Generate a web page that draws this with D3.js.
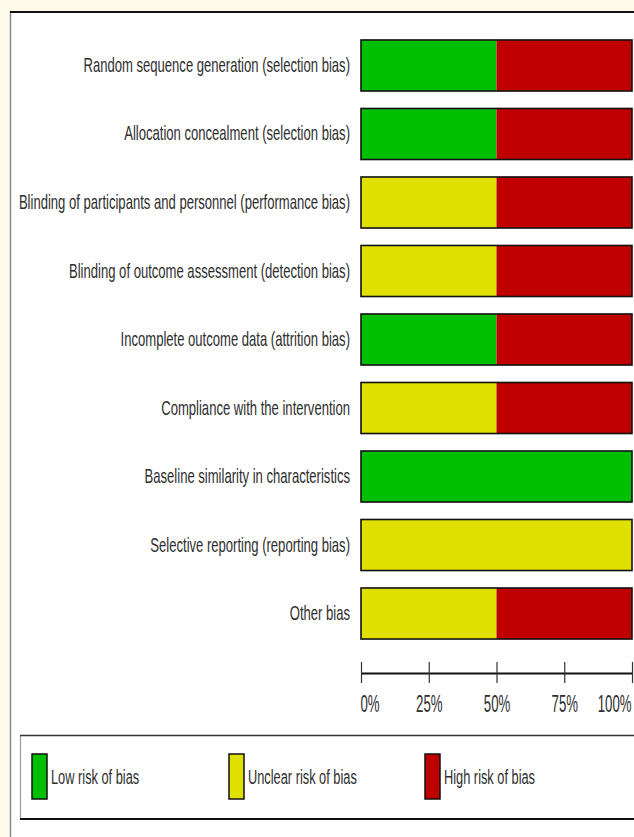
<!DOCTYPE html>
<html><head><meta charset="utf-8">
<script src="https://cdn.jsdelivr.net/npm/d3@7"></script>
<style>
html,body{margin:0;padding:0;background:#fffbea;}
svg{display:block;}
text{font-family:"Liberation Sans",Arial,sans-serif;fill:#2e2e2e;}
</style></head>
<body>
<script>
const categories = [
  "Random sequence generation (selection bias)",
  "Allocation concealment (selection bias)",
  "Blinding of participants and personnel (performance bias)",
  "Blinding of outcome assessment (detection bias)",
  "Incomplete outcome data (attrition bias)",
  "Compliance with the intervention",
  "Baseline similarity in characteristics",
  "Selective reporting (reporting bias)",
  "Other bias"
];
const lowRisk     = [50, 50, 0, 0, 50, 0, 100, 0, 0];
const unclearRisk = [0, 0, 50, 50, 0, 50, 0, 100, 50];
const highRisk    = [50, 50, 50, 50, 50, 50, 0, 0, 50];
const seriesNames = ["Low risk of bias", "Unclear risk of bias", "High risk of bias"];
const seriesColors = ["#00bf00", "#e0e000", "#c00000"];
const tickValues = [0, 25, 50, 75, 100];

const W = 634, H = 837;
const svg = d3.select("body").append("svg").attr("width", W).attr("height", H);

// panel
svg.append("rect").attr("x", 10).attr("y", 11).attr("width", W).attr("height", H).attr("fill", "#fff");
svg.append("line").attr("x1", 10.5).attr("x2", 10.5).attr("y1", 11).attr("y2", H).attr("stroke", "#8a8a8a").attr("stroke-width", 1.5);
svg.append("line").attr("x1", 10).attr("x2", W).attr("y1", 12).attr("y2", 12).attr("stroke", "#111").attr("stroke-width", 2);

const x = d3.scaleLinear().domain([0, 100]).range([361, 632]);
const y = d3.scaleBand().domain(categories).range([22.5, 656.5]).padding(0.255);

const rows = categories.map((c, i) => ({ c, vals: [lowRisk[i], unclearRisk[i], highRisk[i]] }));

const g = svg.append("g");
rows.forEach(r => {
  let acc = 0;
  r.vals.forEach((v, k) => {
    if (v > 0) {
      g.append("rect")
        .attr("x", x(acc)).attr("y", y(r.c))
        .attr("width", x(acc + v) - x(acc)).attr("height", y.bandwidth())
        .attr("fill", seriesColors[k]);
    }
    acc += v;
  });
  g.append("rect")
    .attr("x", x(0)).attr("y", y(r.c))
    .attr("width", x(100) - x(0)).attr("height", y.bandwidth())
    .attr("fill", "none").attr("stroke", "#111").attr("stroke-width", 1.6);
});

g.selectAll("text.lab").data(categories).join("text")
  .attr("class", "lab")
  .attr("transform", d => `translate(350,${y(d) + y.bandwidth() / 2}) scale(0.654,1)`)
  .attr("text-anchor", "end").attr("dominant-baseline", "central")
  .attr("font-size", 20)
  .text(d => d);

// axis
const axisY = 673;
const ax = svg.append("g").attr("transform", `translate(0,${axisY})`)
  .call(d3.axisBottom(x).tickValues(tickValues).tickSize(10).tickSizeOuter(0).tickFormat(d => d + "%"));
ax.select(".domain").attr("stroke", "#111").attr("stroke-width", 2);
ax.selectAll(".tick line").attr("y1", -11).attr("y2", 10).attr("stroke", "#333").attr("stroke-width", 1.2);
ax.selectAll(".tick text")
  .attr("x", null).attr("y", null).attr("dy", null)
  .attr("transform", d => `translate(${d === 0 ? -1 : d === 100 ? -1 : 0},30) scale(0.55,1)`)
  .attr("text-anchor", d => d === 0 ? "start" : d === 100 ? "end" : "middle")
  .attr("dominant-baseline", "central")
  .attr("font-size", 24).attr("font-family", "Liberation Sans, Arial, sans-serif").attr("fill", "#2e2e2e");

// legend
const lg = svg.append("g");
lg.append("rect").attr("x", 20).attr("y", 735).attr("width", W).attr("height", 84).attr("fill", "#fff");
lg.append("line").attr("x1", 20.5).attr("x2", 20.5).attr("y1", 735).attr("y2", 819).attr("stroke", "#999").attr("stroke-width", 1.2);
lg.append("line").attr("x1", 20).attr("x2", W).attr("y1", 735.5).attr("y2", 735.5).attr("stroke", "#333").attr("stroke-width", 1.3);
lg.append("line").attr("x1", 20).attr("x2", W).attr("y1", 819).attr("y2", 819).attr("stroke", "#111").attr("stroke-width", 2);

const legX = [32, 229, 425];
seriesNames.forEach((n, i) => {
  lg.append("rect").attr("x", legX[i]).attr("y", 754).attr("width", 15).attr("height", 45)
    .attr("fill", seriesColors[i]).attr("stroke", "#111").attr("stroke-width", 1.5);
  lg.append("text").attr("transform", `translate(${legX[i] + 19},777) scale(0.64,1)`)
    .attr("dominant-baseline", "central").attr("font-size", 20).text(n);
});
</script>
</body></html>
